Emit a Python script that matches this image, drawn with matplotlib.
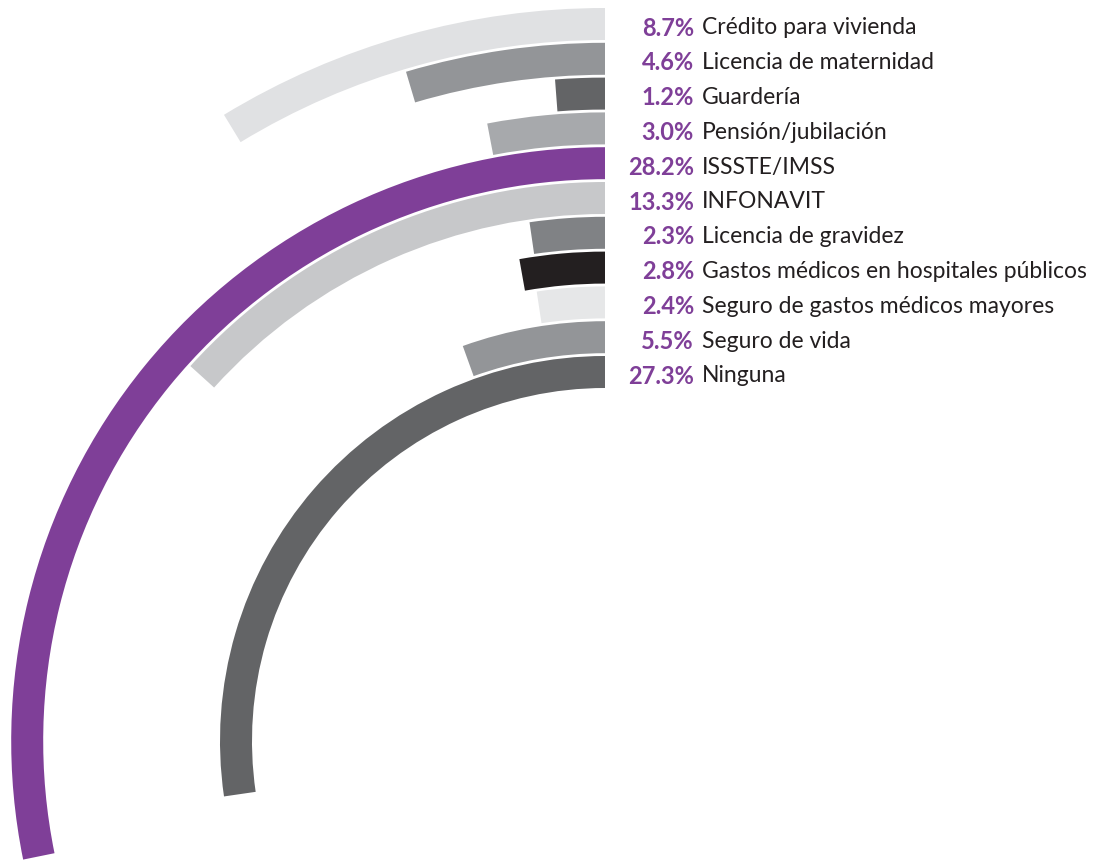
import matplotlib
matplotlib.use("Agg")
import matplotlib.pyplot as plt
from matplotlib.patches import Wedge

categories = ["Crédito para vivienda", "Licencia de maternidad", "Guardería",
              "Pensión/jubilación", "ISSSTE/IMSS", "INFONAVIT",
              "Licencia de gravidez", "Gastos médicos en hospitales públicos",
              "Seguro de gastos médicos mayores", "Seguro de vida", "Ninguna"]
values = [8.7, 4.6, 1.2, 3.0, 28.2, 13.3, 2.3, 2.8, 2.4, 5.5, 27.3]
colors = ["#e0e1e3", "#939598", "#636466", "#a7a9ac", "#7f3f98", "#c7c8ca",
          "#808285", "#231f20", "#e6e7e8", "#939598", "#636466"]
pct_color = "#7f3f98"

W, H = 1097, 861
fig = plt.figure(figsize=(W / 100, H / 100), dpi=100)
ax = fig.add_axes([0, 0, 1, 1])
ax.set_xlim(0, W)
ax.set_ylim(0, H)
ax.set_aspect("equal")
ax.axis("off")

cx, cy = 605, H - 741
step = 34.8
band = 32
first_center = 741 - 24  # radius of first band center

font = "Lato"
for i, (cat, v, c) in enumerate(zip(categories, values, colors)):
    r_mid = first_center - step * i
    ax.add_patch(Wedge((cx, cy), r_mid + band / 2, 90, 90 + v * 3.6,
                       width=band, facecolor=c, edgecolor="none"))
    ty = cy + r_mid - 2
    ax.text(694, ty, f"{v:.1f}%", ha="right", va="center_baseline",
            fontsize=17, fontweight="bold", color=pct_color, family=font)
    ax.text(702, ty, cat, ha="left", va="center_baseline",
            fontsize=16.5, color="#231f20", family=font)

fig.savefig("out.png", dpi=100)
